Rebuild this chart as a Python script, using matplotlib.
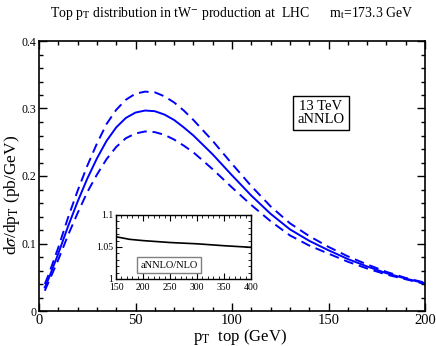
import numpy as np
import matplotlib
matplotlib.use("Agg")
import matplotlib.pyplot as plt
from matplotlib.ticker import MultipleLocator, FormatStrFormatter

plt.rcParams['font.family'] = ['Liberation Serif', 'DejaVu Serif']
plt.rcParams['mathtext.fontset'] = 'stix'

# --- donnees ---
pt = [3, 5, 10, 15, 20, 25, 30, 35, 40, 45, 50, 55, 60, 65, 70, 75, 80,
      90, 100, 110, 120, 130, 140, 150, 160, 170, 180, 190, 200]
central = [0.035, 0.048, 0.085, 0.125, 0.162, 0.196, 0.226, 0.252, 0.272, 0.286,
           0.294, 0.297, 0.296, 0.291, 0.283, 0.272, 0.260, 0.232, 0.201, 0.171,
           0.144, 0.121, 0.104, 0.090, 0.077, 0.066, 0.056, 0.048, 0.041]
upper = [0.040, 0.054, 0.094, 0.138, 0.178, 0.215, 0.248, 0.277, 0.298, 0.313,
         0.322, 0.325, 0.324, 0.318, 0.309, 0.297, 0.283, 0.252, 0.218, 0.185,
         0.155, 0.130, 0.111, 0.095, 0.081, 0.069, 0.058, 0.049, 0.042]
lower = [0.030, 0.043, 0.076, 0.112, 0.145, 0.176, 0.202, 0.225, 0.243, 0.256,
         0.263, 0.266, 0.265, 0.261, 0.254, 0.245, 0.235, 0.210, 0.183, 0.157,
         0.133, 0.112, 0.097, 0.085, 0.073, 0.063, 0.054, 0.047, 0.040]

ratio_pt = [150, 175, 200, 250, 300, 350, 400]
ratio = [1.066, 1.062, 1.060, 1.057, 1.055, 1.052, 1.0495]

blue = '#0000ff'

fig = plt.figure(figsize=(4.36, 3.46), dpi=100)
ax = fig.add_axes([39/436, 1 - 311/346, 386/436, 270/346])

ax.plot(pt, central, '-', color=blue, lw=1.4)
ax.plot(pt, upper, '--', color=blue, lw=1.4, dashes=(5, 3))
ax.plot(pt, lower, '--', color=blue, lw=1.4, dashes=(5, 3))

ax.set_xlim(0, 200)
ax.set_ylim(0, 0.4)
ax.xaxis.set_major_locator(MultipleLocator(50))
ax.xaxis.set_minor_locator(MultipleLocator(10))
ax.yaxis.set_major_locator(MultipleLocator(0.1))
ax.yaxis.set_minor_locator(MultipleLocator(0.02))
ax.yaxis.set_major_formatter(FormatStrFormatter('%g'))
ax.tick_params(which='both', direction='in', top=True, right=True, width=1.0)
ax.tick_params(which='major', length=6)
ax.tick_params(which='minor', length=3)
ax.tick_params(axis='x', labelsize=10.5, pad=2)
ax.tick_params(axis='y', labelsize=8.5, pad=2)
for s in ax.spines.values():
    s.set_linewidth(1.2)

ax.set_xlabel(r"p$_{\rm T}$  top (GeV)", fontsize=12)
ax.xaxis.set_label_coords(0.52, -0.06)
ax.set_ylabel(r"d$\sigma$/dp$_{\rm T}$ (pb/GeV)", fontsize=12.5)
ax.yaxis.set_label_coords(-0.045, 0.43)

fig.text(232/436, 1 - 13/346,
         r"Top p$_{\rm T}$ distribution in tW$^{-}$ production at  LHC      m$_{\rm t}$=173.3 GeV",
         ha='center', va='center', fontsize=9.9)

ax.text(321/436, 1 - 113/346, "13 TeV\naNNLO", transform=fig.transFigure,
        ha='center', va='center', fontsize=10.5, linespacing=1.0,
        bbox=dict(boxstyle='square,pad=0.3', fc='white', ec='black', lw=1.0))

# --- encart rapport aNNLO/NLO ---
ins = fig.add_axes([116/436, 1 - 279/346, 135/436, 64/346])
ins.plot(ratio_pt, ratio, '-', color='black', lw=1.2)
ins.set_xlim(150, 400)
ins.set_ylim(1.0, 1.1)
ins.xaxis.set_major_locator(MultipleLocator(50))
ins.xaxis.set_minor_locator(MultipleLocator(10))
ins.yaxis.set_major_locator(MultipleLocator(0.05))
ins.yaxis.set_minor_locator(MultipleLocator(0.01))
ins.yaxis.set_major_formatter(FormatStrFormatter('%g'))
ins.tick_params(which='both', direction='in', top=True, right=True, labelsize=7)
ins.tick_params(axis='x', pad=3)
ins.tick_params(axis='y', pad=2)
ins.tick_params(which='major', length=4)
ins.tick_params(which='minor', length=2)
for s in ins.spines.values():
    s.set_linewidth(1.0)
ins.text(169/436, 1 - 265/346, "aNNLO/NLO", transform=fig.transFigure,
         ha='center', va='center', fontsize=7.5,
         bbox=dict(boxstyle='square,pad=0.3', fc='white', ec='gray', lw=1.0))

fig.savefig("out.png", dpi=100)
